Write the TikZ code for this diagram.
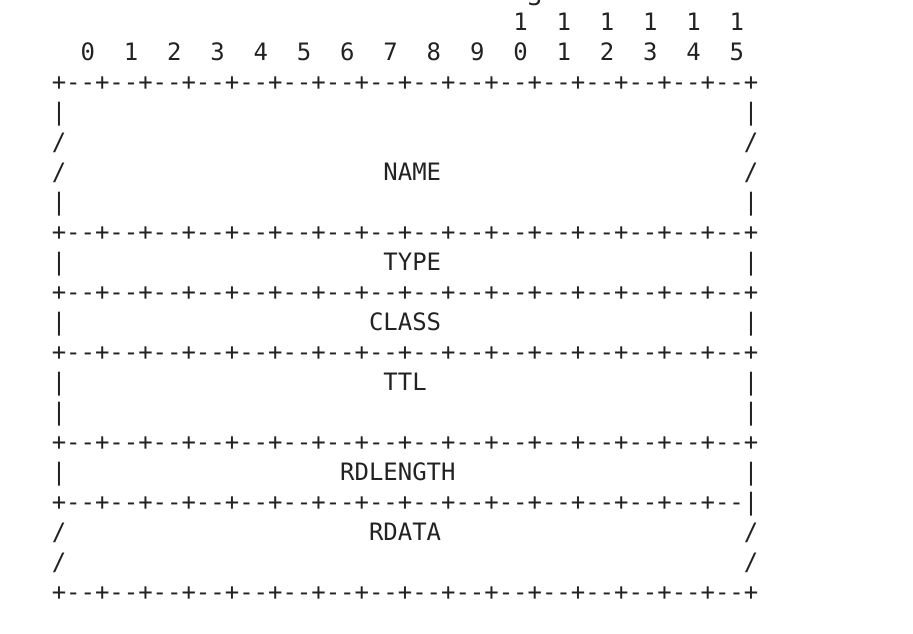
\documentclass[tikz,border=0pt]{standalone}
\usepackage{fontspec}
\setmonofont{DejaVu Sans Mono}
\definecolor{ink}{RGB}{34,34,34}
\tikzset{
  glyph/.style={anchor=base, inner sep=0pt, outer sep=0pt, text=ink,
    font=\ttfamily\fontsize{23.95pt}{30pt}\selectfont},
}
\newcommand{\sepline}{+--+--+--+--+--+--+--+--+--+--+--+--+--+--+--+--+}
\newcommand{\sepbar}{+--+--+--+--+--+--+--+--+--+--+--+--+--+--+--+--|}

\begin{document}
\begin{tikzpicture}[x=14.42pt, y=-30pt]
    \useasboundingbox (-4.0915,0) rectangle (59.22,21.1);
    % bit numbers
    \node[glyph] (cut) at (33,0.17) {3};
    \foreach \b in {10,...,15}
        \node[glyph] (ten\b) at ({2+3*\b},1) {1};
    \foreach \b in {0,...,15} {
        \pgfmathtruncatemacro\d{mod(\b,10)}
        \node[glyph] (bit\b) at ({2+3*\b},2) {\d};
    }
    % borders between fields
    \foreach \k in {3,8,10,12,15,20}
        \node[glyph] (sep\k) at (24,\k) {\sepline};
    \node[glyph] (sep17) at (24,17) {\sepbar};
    % side walls
    \foreach \k in {4,7,9,11,13,14,16} {
        \node[glyph] (barL\k) at (0,\k) {|};
        \node[glyph] (barR\k) at (48,\k) {|};
    }
    \foreach \k in {5,6,18,19} {
        \node[glyph] (slashL\k) at (0,\k) {/};
        \node[glyph] (slashR\k) at (48,\k) {/};
    }
    % field names
    \node[glyph] (name) at (24.5,6) {NAME};
    \node[glyph] (type) at (24.5,9) {TYPE};
    \node[glyph] (class) at (24,11) {CLASS};
    \node[glyph] (ttl) at (24,13) {TTL};
    \node[glyph] (rdlength) at (23.5,16) {RDLENGTH};
    \node[glyph] (rdata) at (24,18) {RDATA};
\end{tikzpicture}
\end{document}
